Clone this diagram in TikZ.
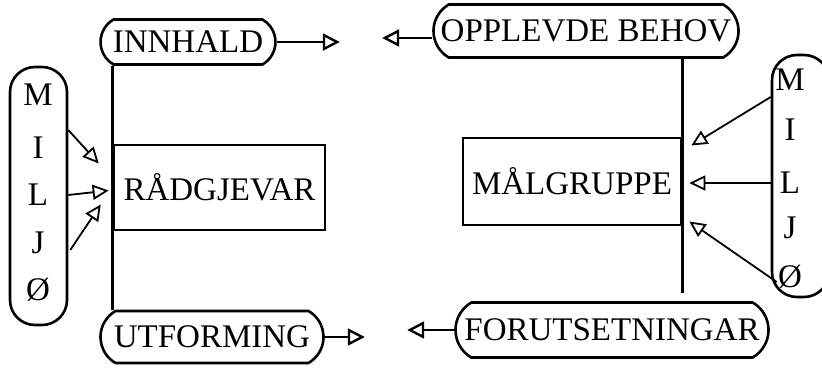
\documentclass[tikz,border=0pt]{standalone}
\usepackage{fontspec}
\setmainfont{Liberation Serif}
\usetikzlibrary{arrows.meta,shapes.misc,calc,positioning}
\tikzset{
  endbox/.style={draw,line width=2.6pt,rounded rectangle,rounded rectangle arc length=120,
    inner sep=1pt,font=\fontsize{33}{38}\selectfont},
  mainbox/.style={draw,line width=2.6pt,inner sep=1pt,font=\fontsize{33}{38}\selectfont},
  pill/.style={draw,line width=2.6pt,rounded corners=25pt},
  letter/.style={inner sep=1pt,font=\fontsize{33}{38}\selectfont},
  spine/.style={line width=2.6pt},
  flow/.style={line width=2.4pt,-{Triangle[open,length=17pt,width=17pt,line width=2.4pt]}},
  infl/.style={line width=1.8pt,-{Triangle[open,length=16pt,width=15pt,line width=1.8pt]}}
}
\begin{document}
\begin{tikzpicture}[x=1pt,y=-1pt]
    \useasboundingbox (0,0) rectangle (822,367);
    %% left half
    \node[endbox,minimum width=177pt,minimum height=45pt] (inn) at (188,42) {INNHALD};
    \node[endbox,minimum width=225pt,minimum height=52pt] (utf) at (212,337) {UTFORMING};
    \node[mainbox,minimum width=211pt,minimum height=85pt] (rad) at (219.5,187.5) {RÅDGJEVAR};
    \draw[spine] (rad.west |- inn.south) -- (rad.west |- utf.north);
    \node[pill,minimum width=57pt,minimum height=258pt] (milL) at (38.5,196) {};
    \foreach \l/\y [count=\i] in {M/95,I/148,L/195,J/243,Ø/290}
        \node[letter] (mL\i) at (38,\y) {\l};
    \draw[infl] ($(milL.east)+(0,-66)$) -- ($(rad.west)+(-14,-24)$);
    \draw[infl] (milL.east |- mL3) -- ($(rad.west)+(-4,3)$);
    \draw[infl] ($(milL.east)+(2,54)$) -- ($(rad.west)+(-12,17)$);
    \coordinate[right=63pt of inn.east] (innout);
    \coordinate[right=40pt of utf.east] (utfout);
    \draw[flow] (inn.east) -- (innout);
    \draw[flow] (utf.east) -- (utfout);
    %% right half
    \node[endbox,minimum width=307pt,minimum height=53pt] (opp) at (586,31) {OPPLEVDE BEHOV};
    \node[endbox,minimum width=315pt,minimum height=55pt] (for) at (612,330) {FORUTSETNINGAR};
    \node[mainbox,minimum width=218pt,minimum height=87pt] (mal) at (572,181.5) {MÅLGRUPPE};
    \coordinate[above=8pt of {mal.east |- for.north}] (malend);
    \draw[spine] (mal.east |- opp.south) -- (malend);
    \node[pill,minimum width=57pt,minimum height=242pt] (milR) at (800.5,176) {};
    \foreach \l/\y [count=\i] in {M/80,I/130,L/183,J/228,Ø/277}
        \node[letter] (mR\i) at (790,\y) {\l};
    \draw[infl] ($(milR.west)+(0,-79)$) -- ($(mal.east)+(9,-36)$);
    \draw[infl] (milR.west |- mR3) -- ($(mal.east |- mR3)+(7,0)$);
    \draw[infl] ($(milR.west)+(6,106)$) -- ($(mal.east)+(7,40)$);
    \coordinate[left=50pt of {$(opp.west)+(0,7)$}] (oppout);
    \coordinate[left=47pt of for.west] (forout);
    \draw[flow] ($(opp.west)+(0,7)$) -- (oppout);
    \draw[flow] (for.west) -- (forout);
\end{tikzpicture}
\end{document}
